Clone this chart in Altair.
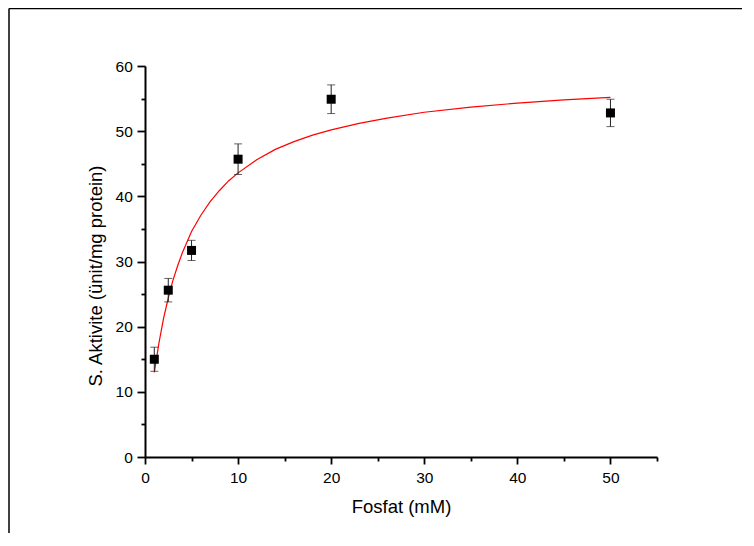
import altair as alt
import pandas as pd

# ---- data ----
conc = [1, 2.5, 5, 10, 20, 50]                 # Fosfat (mM)
activity = [15.0, 25.6, 31.7, 45.7, 54.9, 52.8]  # S. Aktivite
err = [1.85, 1.8, 1.55, 2.35, 2.2, 2.1]          # error bar half-length

# red fitted curve
fit_x = [1, 1.5, 2, 2.5, 3, 3.5, 4, 5, 6, 7, 8, 9, 10, 12, 14, 16, 18, 20,
         23, 26, 30, 35, 40, 45, 50]
fit_y = [13.0, 17.5, 21.3, 24.4, 27.1, 29.3, 31.3, 34.6, 37.1, 39.2, 40.9,
         42.4, 43.6, 45.6, 47.2, 48.4, 49.4, 50.2, 51.2, 52.0, 52.9, 53.7,
         54.3, 54.8, 55.2]

x_major = [0, 10, 20, 30, 40, 50]
x_minor = [5, 15, 25, 35, 45, 55]
y_major = [0, 10, 20, 30, 40, 50, 60]
y_minor = [5, 15, 25, 35, 45, 55]

X_TITLE = "Fosfat (mM)"
Y_TITLE = "S. Aktivite (ünit/mg protein)"

W, H = 512, 391
PAD = {"left": 137, "top": 58, "right": 85, "bottom": 76}
FONT = "Liberation Sans"

pts = pd.DataFrame({
    "conc": conc,
    "act": activity,
    "lo": [a - e for a, e in zip(activity, err)],
    "hi": [a + e for a, e in zip(activity, err)],
})
fit = pd.DataFrame({"conc": fit_x, "act": fit_y})
one = pd.DataFrame({"k": [0]})

xs = alt.Scale(domain=[0, 55], nice=False, zero=False)
ys = alt.Scale(domain=[0, 60], nice=False, zero=False)

x_axis = alt.Axis(values=x_major, orient="bottom", title=X_TITLE, tickSize=7,
                  labelBaseline="alphabetic", labelPadding=18.3, format="d",
                  labelFlush=False,
                  titleBaseline="alphabetic", titleY=55.7)
y_axis = alt.Axis(values=y_major, orient="left", title=Y_TITLE, tickSize=8,
                  labelPadding=4.7, format="d", titleAngle=270, labelFlush=False,
                  titleBaseline="alphabetic", titleX=-44, titleY=209.5)
x_minor_axis = alt.Axis(values=x_minor, orient="bottom", tickSize=4, labels=False,
                        domain=False, title=None)
y_minor_axis = alt.Axis(values=y_minor, orient="left", tickSize=4, labels=False,
                        domain=False, title=None)

frame_left = alt.Chart(one).mark_rule(color="black", strokeWidth=1.5).encode(
    x=alt.value(-136), y=alt.value(-57.5), y2=alt.value(H + PAD["bottom"]))
frame_top = alt.Chart(one).mark_rule(color="black", strokeWidth=1.5).encode(
    x=alt.value(-136), x2=alt.value(W + PAD["right"]), y=alt.value(-57.5))

curve = alt.Chart(fit).mark_line(color="#ff0000", strokeWidth=1.2).encode(
    x=alt.X("conc:Q", scale=xs, axis=None),
    y=alt.Y("act:Q", scale=ys, axis=None),
)

bars = alt.Chart(pts).mark_rule(color="#222222", strokeWidth=1).encode(
    x=alt.X("conc:Q", scale=xs, axis=None),
    y=alt.Y("lo:Q", scale=ys, axis=None),
    y2="hi:Q",
)
cap_lo = alt.Chart(pts).mark_tick(orient="horizontal", color="#222222", size=8,
                                  thickness=1).encode(
    x=alt.X("conc:Q", scale=xs, axis=None),
    y=alt.Y("lo:Q", scale=ys, axis=None),
)
cap_hi = alt.Chart(pts).mark_tick(orient="horizontal", color="#222222", size=8,
                                  thickness=1).encode(
    x=alt.X("conc:Q", scale=xs, axis=None),
    y=alt.Y("hi:Q", scale=ys, axis=None),
)

squares = alt.Chart(pts).mark_square(size=81, color="black", opacity=1,
                                     filled=True).encode(
    x=alt.X("conc:Q", scale=xs, axis=x_axis),
    y=alt.Y("act:Q", scale=ys, axis=y_axis),
)

minor = alt.Chart(pts).mark_point(opacity=0).encode(
    x=alt.X("conc:Q", scale=xs, axis=x_minor_axis),
    y=alt.Y("act:Q", scale=ys, axis=y_minor_axis),
)

chart = alt.layer(
    frame_left, frame_top, minor, curve, bars, cap_lo, cap_hi, squares
).resolve_axis(x="independent", y="independent").properties(
    width=W, height=H,
    autosize=alt.AutoSizeParams(type="none"),
    padding=PAD,
    background="white",
).configure_view(stroke=None).configure_axis(
    grid=False,
    domainColor="black", domainWidth=2,
    tickColor="black", tickWidth=1.8,
    labelFont=FONT, labelFontSize=15.5, labelColor="black",
    titleFont=FONT, titleFontSize=18.5, titleFontWeight="normal",
    titleColor="black",
)

chart.save("out.html", embed_options={"renderer": "svg", "actions": False})
